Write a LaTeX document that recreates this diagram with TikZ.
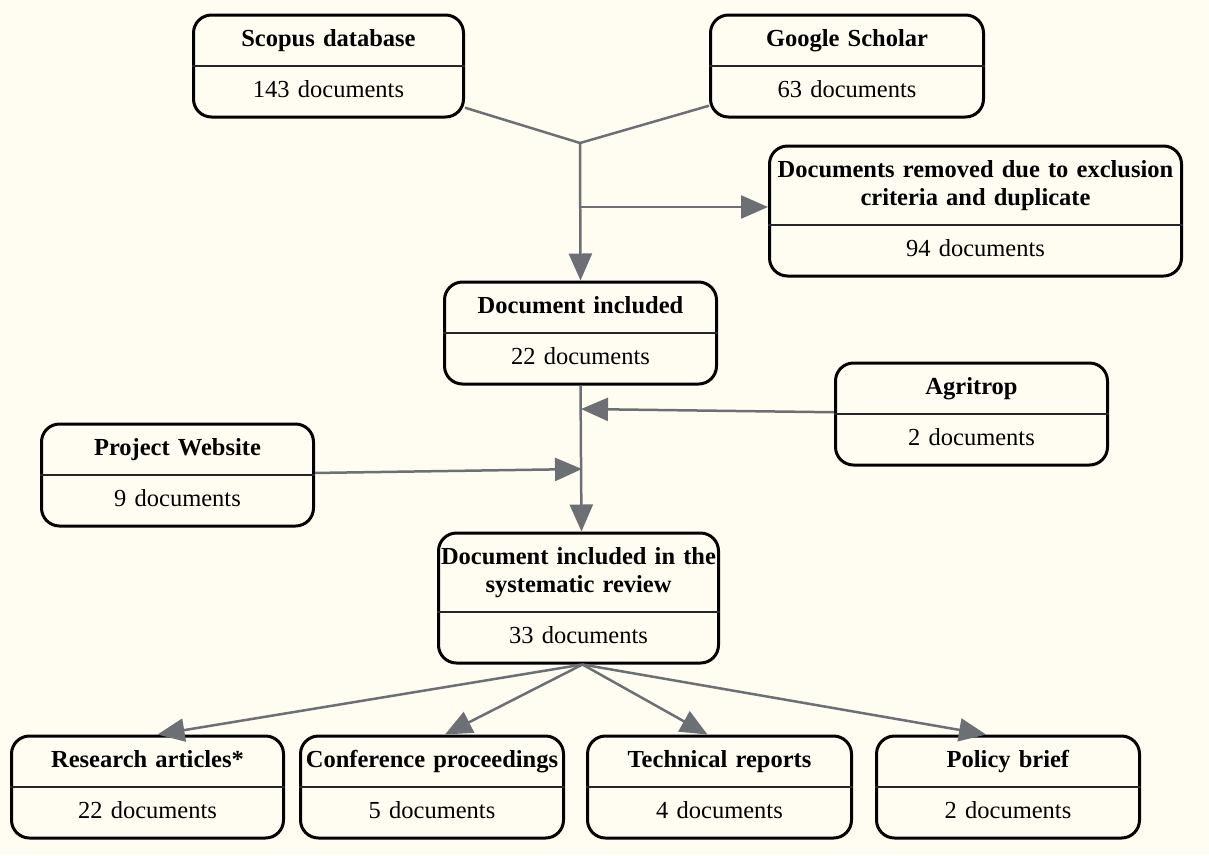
\documentclass[tikz,border=0pt]{standalone}
\usepackage{fontspec}
\setmainfont{Liberation Serif}
\usetikzlibrary{shapes.multipart,positioning,arrows.meta}
\definecolor{paper}{HTML}{FFFDF2}
\definecolor{linkgray}{HTML}{6C7074}
\tikzset{
docbox/.style={
  rectangle split,
  rectangle split parts=2,
  rectangle split draw splits=false,
  draw=black,
  line width=3pt,
  fill=paper,
  rounded corners=18pt,
  text width=#1,
  align=center,
  inner xsep=0pt,
  inner ysep=10pt,
  font=\fontsize{24.5}{28}\selectfont
  },
splitline/.style={draw=black!85,line width=1.8pt},
link/.style={draw=linkgray,line width=2.5pt},
arr/.style={link,-{Triangle[length=27pt,width=23pt]}}
}

\begin{document}
\begin{tikzpicture}[x=1pt,y=-1pt]

\fill[paper] (0,0) rectangle (1209,855);

% sources
\node[docbox=270pt,anchor=north] at (328.5,13.5) (scopus)
{\strut\textbf{Scopus database}\nodepart{two}\strut 143 documents};

\node[docbox=273pt,anchor=north] at (847,13.5) (scholar)
{\strut\textbf{Google Scholar}\nodepart{two}\strut 63 documents};

\node[docbox=412pt,anchor=north] at (975.5,144.5) (removed)
{\strut\textbf{Documents removed due to exclusion}\\\textbf{criteria and duplicate}\strut\nodepart{two}\strut 94 documents};

\node[docbox=272pt,anchor=north] at (580.5,280.5) (docincl)
{\strut\textbf{Document included}\nodepart{two}\strut 22 documents};

\node[docbox=272pt,anchor=north] at (971.5,361.5) (agritrop)
{\strut\textbf{Agritrop}\nodepart{two}\strut 2 documents};

\node[docbox=272pt,anchor=north] at (177.5,422.5) (website)
{\strut\textbf{Project Website}\nodepart{two}\strut 9 documents};

\node[docbox=280pt,anchor=north] at (578.5,531.5) (review)
{\strut\mbox{\textbf{Document included in the}}\\\textbf{systematic review}\strut\nodepart{two}\strut 33 documents};

% document types
\node[docbox=272pt,anchor=north] at (147.5,734.5) (research)
{\strut\textbf{Research articles*}\nodepart{two}\strut 22 documents};

\node[docbox=263pt,right=14pt of research] (conference)
{\strut\textbf{Conference proceedings}\nodepart{two}\strut 5 documents};

\node[docbox=264pt,right=21pt of conference] (technical)
{\strut\textbf{Technical reports}\nodepart{two}\strut 4 documents};

\node[docbox=263pt,right=22pt of technical] (policy)
{\strut\textbf{Policy brief}\nodepart{two}\strut 2 documents};

\foreach \n in {scopus,scholar,removed,docincl,agritrop,website,review,research,conference,technical,policy}
  \draw[splitline] (\n.text split west) -- (\n.text split east);

\coordinate (merge) at (580,143);
\coordinate (cut) at (580,207);
\coordinate (joinA) at (581,409);
\coordinate (joinB) at (582,469);
\coordinate (fan) at ([xshift=4pt]review.south);

\draw[link] (scopus) -- (merge);
\draw[link] (scholar) -- (merge);
\draw[arr] (merge) -- (docincl.north);
\draw[arr] (cut) -- (cut -| removed.west);

\draw[arr] (docincl.south) -- ([xshift=3pt]review.north);
\draw[arr] (agritrop) -- (joinA);
\draw[arr] (website) -- (joinB);

\foreach \n/\dx in {research/10,conference/13,technical/-12,policy/-22}
  \draw[arr] (fan) -- ([xshift=\dx pt]\n.north);

\end{tikzpicture}
\end{document}
